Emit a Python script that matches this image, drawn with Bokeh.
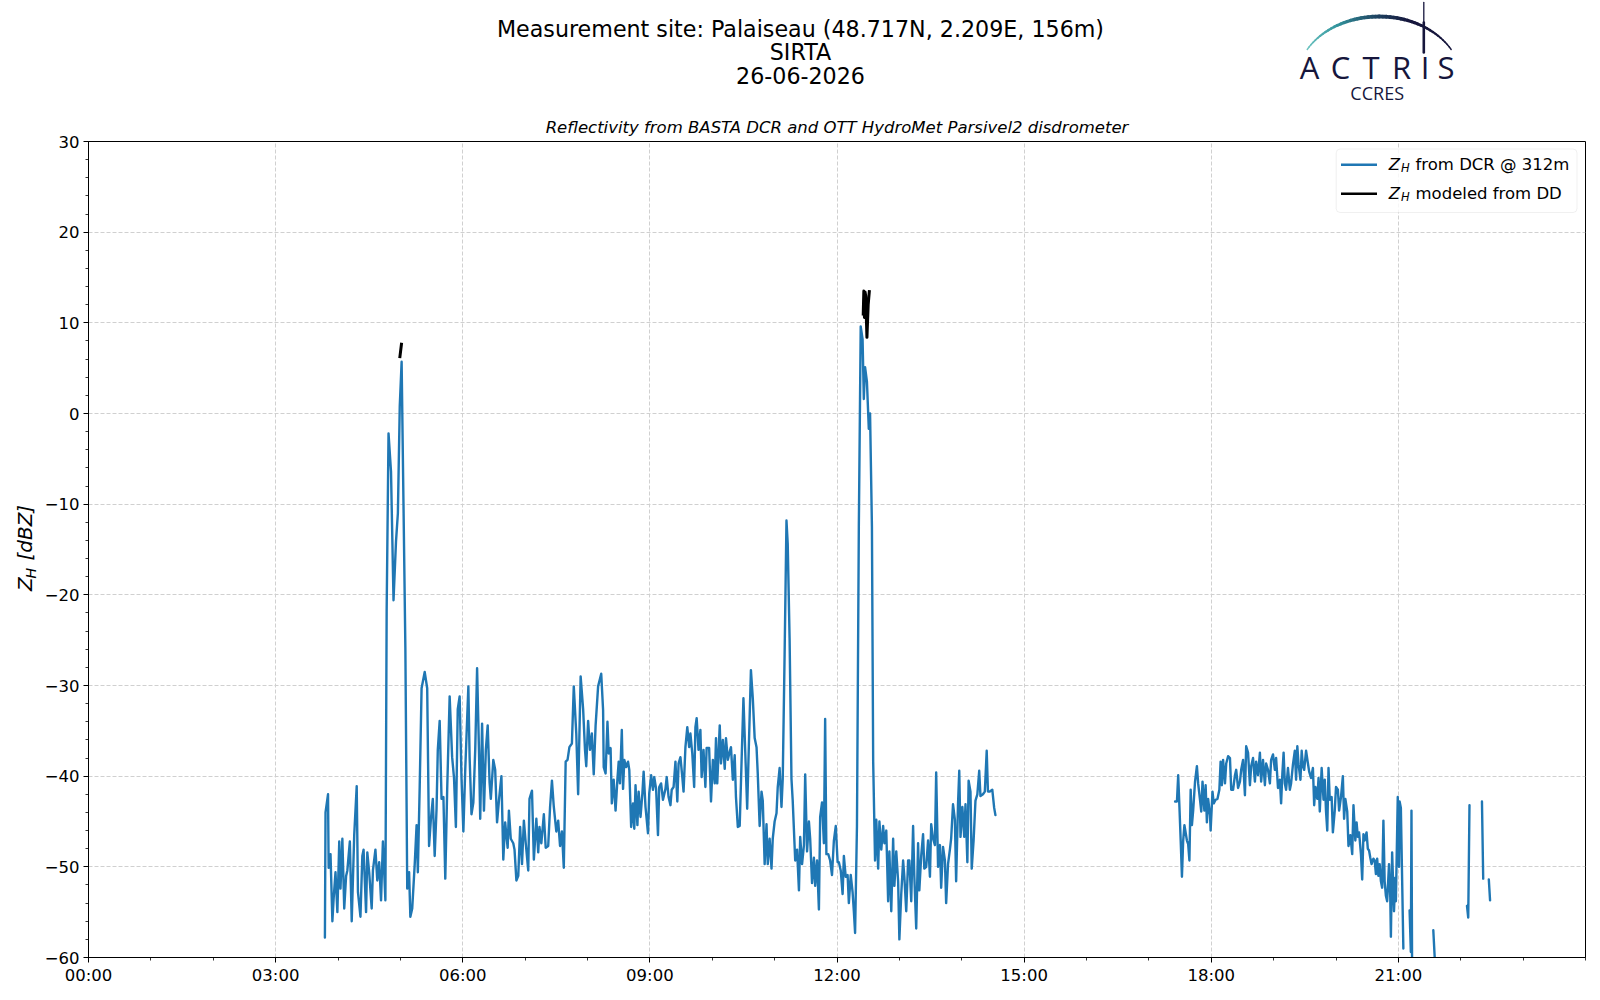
import math
from bokeh.plotting import figure
from bokeh.layouts import column, row
from bokeh.models import ColumnDataSource, FixedTicker, Label, Arrow, BoxAnnotation, Range1d
from bokeh.embed import file_html
from bokeh.resources import INLINE

nan = float("nan")

# ---------------- data (hours of day, dBZ) ----------------
seg1_hours = [3.79, 3.80, 3.84, 3.85, 3.88, 3.91, 3.93, 3.96, 3.99, 4.02, 4.04, 4.07, 4.10, 4.13, 4.15, 4.19,
              4.22, 4.26, 4.30, 4.32, 4.36, 4.39, 4.41, 4.45, 4.47, 4.50, 4.54, 4.56, 4.60, 4.63, 4.66, 4.69,
              4.72, 4.76, 4.78, 4.81, 4.85, 4.89, 4.93, 4.96, 4.99, 5.02, 5.05, 5.08, 5.11, 5.14, 5.16, 5.19,
              5.23, 5.26, 5.28, 5.31, 5.34, 5.39, 5.43, 5.46, 5.49, 5.52, 5.55, 5.58, 5.60, 5.63, 5.66, 5.69,
              5.72, 5.75, 5.79, 5.83, 5.86, 5.89, 5.92, 5.95, 5.98, 6.01, 6.04, 6.09, 6.11, 6.14, 6.17, 6.20,
              6.23, 6.26, 6.28, 6.31, 6.34, 6.37, 6.40, 6.43, 6.45, 6.49, 6.52, 6.55, 6.58, 6.62, 6.65, 6.68,
              6.72, 6.74, 6.77, 6.81, 6.83, 6.86, 6.89, 6.92, 6.95, 6.98, 7.01, 7.05, 7.07, 7.11, 7.14, 7.18,
              7.21, 7.23, 7.26, 7.30, 7.33, 7.37, 7.40, 7.43, 7.46, 7.50, 7.53, 7.56, 7.59, 7.62, 7.65, 7.68,
              7.71, 7.75, 7.78, 7.82, 7.85, 7.89, 7.93, 7.96, 7.98, 8.01, 8.04, 8.07, 8.10, 8.13, 8.17,
              8.22, 8.25, 8.26, 8.29, 8.32, 8.34, 8.37, 8.39, 8.42, 8.45, 8.48, 8.50, 8.52, 8.55, 8.57, 8.59,
              8.62, 8.65, 8.67, 8.70, 8.73, 8.75, 8.77, 8.80, 8.82, 8.85, 8.88, 8.90, 8.93, 8.97, 8.99, 9.02,
              9.05, 9.07, 9.10, 9.13, 9.15, 9.18, 9.21, 9.25, 9.27, 9.30, 9.33, 9.35, 9.38, 9.41, 9.44, 9.46,
              9.49, 9.52, 9.54, 9.57, 9.60, 9.63, 9.65, 9.68, 9.71, 9.73, 9.75, 9.78, 9.81, 9.83, 9.86, 9.89,
              9.91, 9.95, 9.98, 10.01, 10.04, 10.06, 10.08, 10.12, 10.14, 10.17, 10.20, 10.22, 10.25, 10.28,
              10.30, 10.33, 10.36, 10.38, 10.41,
              10.44, 10.47, 10.50, 10.53, 10.56, 10.58, 10.62, 10.65, 10.68, 10.71, 10.73, 10.76, 10.79, 10.81,
              10.84, 10.87, 10.89, 10.92, 10.95, 10.97, 11.00, 11.03, 11.05, 11.08, 11.11, 11.13, 11.16, 11.19,
              11.21, 11.24, 11.27, 11.29, 11.33, 11.36, 11.39, 11.41, 11.44, 11.47, 11.49, 11.52, 11.55, 11.57,
              11.60, 11.63, 11.65, 11.68, 11.71, 11.73, 11.76, 11.79, 11.81, 11.83, 11.86, 11.89, 11.92, 11.95,
              11.98, 12.01, 12.03, 12.06, 12.09, 12.11, 12.14, 12.17, 12.19, 12.22, 12.25, 12.27, 12.29, 12.32,
              12.35, 12.38, 12.41, 12.43, 12.45, 12.48, 12.51, 12.53, 12.56, 12.58, 12.61, 12.63, 12.66, 12.68,
              12.71, 12.74, 12.76, 12.79, 12.82, 12.84, 12.87, 12.90, 12.92, 12.95, 12.98, 13.00, 13.03, 13.06,
              13.08, 13.11, 13.14, 13.16, 13.19, 13.22, 13.24, 13.27, 13.30, 13.32, 13.35, 13.38, 13.40, 13.43,
              13.46, 13.49, 13.51, 13.54, 13.57, 13.59, 13.62, 13.65, 13.67, 13.70, 13.73, 13.75, 13.78, 13.81,
              13.83, 13.86, 13.89, 13.91, 13.94, 13.96, 13.98, 14.01, 14.04, 14.06, 14.09, 14.11, 14.14, 14.16,
              14.19, 14.22, 14.25, 14.28, 14.30, 14.34, 14.37, 14.40, 14.42, 14.45, 14.49, 14.52, 14.54]
seg1_dbz = [-57.8, -44.0, -42.0, -50.1, -48.6, -56.0, -53.5, -50.6, -55.0, -47.2, -52.4, -46.9, -54.6, -51.0, -50.4, -47.2,
            -56.0, -46.5, -41.1, -52.8, -55.5, -48.8, -48.1, -55.0, -48.4, -50.6, -54.6, -50.4, -48.1, -51.5, -49.5, -53.7,
            -47.2, -53.7, -21.8, -2.2, -6.4, -20.6, -14.1, -11.0, 0.8, 5.7, -10.0, -25.8, -52.4, -50.6, -55.5, -54.6,
            -49.7, -45.4, -50.6, -41.1, -30.3, -28.5, -30.3, -47.7, -44.7, -42.5, -48.8, -43.6, -37.1, -33.9, -42.5, -42.3,
            -51.3, -41.6, -31.2, -37.9, -40.2, -45.6, -32.6, -31.2, -40.2, -46.1, -39.3, -30.1, -37.9, -44.2, -42.9, -37.1,
            -28.1, -37.1, -44.7, -34.2, -43.8, -37.1, -34.4, -40.7, -42.5, -38.2, -39.3, -45.1, -42.7, -40.0, -49.2, -45.1,
            -47.9, -43.8, -46.9, -47.4, -48.1, -51.5, -51.0, -45.6, -49.7, -44.9, -47.4, -50.4, -42.5, -41.6, -49.2, -44.7,
            -48.4, -45.6, -47.4, -44.2, -47.9, -47.7, -43.4, -40.5, -43.4, -46.1, -44.9, -47.7, -46.1, -50.1, -38.4, -38.2,
            -36.8, -36.4, -30.1, -35.3, -42.0, -29.0, -32.6, -37.1, -38.9, -33.9, -37.1, -35.3, -39.8, -34.4, -30.1,
            -28.7, -32.7, -39.0, -39.7, -34.0, -37.5, -36.9, -43.0, -40.4, -43.8, -40.3, -38.4, -40.8, -34.9, -41.4, -38.2,
            -39.0, -38.4, -39.3, -45.6, -43.0, -45.8, -41.0, -45.4, -41.7, -44.5, -41.9, -39.5, -43.4, -46.3, -41.9, -39.9,
            -41.5, -40.1, -41.4, -46.5, -41.2, -40.8, -42.6, -41.4, -40.1, -42.3, -43.2, -41.5, -41.2, -38.4, -42.8, -38.6,
            -37.9, -40.1, -41.7, -36.8, -34.6, -36.8, -35.3, -37.5, -41.2, -34.6, -33.6, -37.1, -34.9, -40.1, -37.1, -41.2,
            -36.9, -36.9, -42.8, -38.2, -40.8, -35.8, -40.8, -34.4, -38.6, -36.0, -39.2, -35.8, -38.2, -37.3,
            -36.8, -40.4, -37.7, -42.3, -45.6,
            -45.5, -38.4, -31.4, -37.5, -43.6, -38.4, -28.3, -31.4, -35.8, -36.8, -39.8, -45.5, -41.7, -42.7,
            -49.7, -45.3, -49.7, -46.9, -50.2, -46.9, -45.0, -44.1, -41.2, -39.1, -43.4, -40.3, -26.6, -11.8,
            -14.4, -24.8, -40.3, -42.7, -49.3, -48.1, -52.6, -46.7, -49.7, -47.6, -39.8, -48.3, -45.0, -46.9,
            -51.8, -49.0, -52.1, -49.3, -54.7, -44.5, -42.9, -47.4, -33.7, -48.6, -48.6, -49.3, -50.9, -47.1,
            -45.5, -49.5, -49.5, -50.4, -53.0, -48.8, -51.1, -50.9, -54.0, -50.9, -52.8, -54.9, -57.3, -45.5,
            -12.5, 9.6, 8.2, 1.6, 5.1, 3.5, -1.7, 0.0, -12.5, -38.4, -49.3, -44.8, -50.2, -45.0,
            -48.1, -45.5, -47.4, -46.0, -53.8, -48.3, -54.9, -46.9, -52.1, -48.3, -51.6, -58.0, -53.0, -49.3,
            -51.1, -54.9, -49.3, -49.3, -53.8, -45.5, -51.1, -56.8, -47.4, -52.6, -48.8, -46.4, -50.2, -50.0,
            -47.1, -51.1, -45.3, -46.9, -47.6, -39.6, -50.0, -47.6, -52.3, -47.8, -49.3, -54.0, -49.7, -48.1,
            -46.9, -43.1, -44.8, -51.6, -43.1, -39.4, -46.7, -43.4, -46.7, -43.1, -49.5, -40.5, -41.7, -50.2,
            -47.1, -42.7, -42.0, -39.4, -42.2, -42.0, -41.7, -37.2, -41.7, -41.7, -41.5, -43.5, -44.3]

seg2_hours = [17.42, 17.45, 17.47, 17.49, 17.51, 17.53, 17.55, 17.57, 17.61, 17.63, 17.65, 17.67, 17.69, 17.71,
              17.74, 17.77, 17.79, 17.82, 17.84, 17.86, 17.89, 17.91, 17.93, 17.95, 17.98, 17.99, 18.02, 18.04,
              18.07, 18.10, 18.13, 18.15, 18.17, 18.19, 18.22, 18.24, 18.27, 18.30, 18.32, 18.35, 18.38, 18.40,
              18.43, 18.46, 18.48, 18.51, 18.54, 18.56, 18.59, 18.62, 18.64, 18.67, 18.70, 18.72, 18.75, 18.78,
              18.80, 18.83, 18.86, 18.88, 18.91, 18.94, 18.96, 18.99, 19.02, 19.04, 19.07, 19.10, 19.12, 19.14,
              19.16, 19.18, 19.20, 19.23, 19.26, 19.28, 19.31, 19.34, 19.36, 19.38, 19.40, 19.43, 19.45, 19.47,
              19.49, 19.52, 19.55, 19.57, 19.60, 19.63, 19.65, 19.67, 19.70, 19.72, 19.74, 19.77, 19.80, 19.82,
              19.84, 19.86, 19.88, 19.90, 19.93, 19.95, 19.98, 20.00, 20.03, 20.05, 20.08, 20.11, 20.13, 20.15,
              20.18, 20.20, 20.23, 20.26, 20.28, 20.31, 20.33, 20.35, 20.37, 20.40, 20.42, 20.44, 20.46, 20.49,
              20.51, 20.53, 20.55, 20.57, 20.60, 20.62, 20.64, 20.66, 20.68, 20.70, 20.72, 20.74, 20.76, 20.78,
              20.80, 20.82, 20.85, 20.87, 20.88, 20.90, 20.93, 20.95, 20.96, 20.99, 21.01, 21.02, 21.04, 21.08]
seg2_dbz = [-42.8, -42.8, -39.9, -43.4, -47.1, -51.1, -47.1, -45.4, -47.1, -47.5, -49.3, -41.5, -45.4, -43.8,
            -40.6, -38.9, -40.8, -42.6, -43.9, -40.6, -43.8, -41.0, -45.1, -42.5, -44.3, -46.0, -41.7, -43.0,
            -42.6, -42.5, -41.5, -38.4, -41.0, -38.2, -40.8, -38.6, -37.8, -38.0, -41.5, -41.5, -39.9, -39.3,
            -41.3, -40.6, -39.3, -38.2, -42.1, -36.7, -37.4, -41.0, -38.9, -38.0, -40.6, -38.4, -39.9, -37.4,
            -40.6, -38.2, -41.0, -38.6, -39.3, -40.8, -38.2, -37.6, -39.3, -38.0, -41.3, -40.4, -43.0, -39.7,
            -37.4, -40.8, -41.5, -39.1, -41.5, -40.8, -38.7, -37.2, -40.4, -36.7, -38.7, -40.4, -37.2, -38.9,
            -39.3, -37.2, -38.6, -39.5, -40.2, -39.1, -43.2, -41.2, -42.5, -40.2, -43.9, -39.1, -42.6, -40.4,
            -43.9, -46.0, -39.1, -42.6, -42.3, -46.2, -43.8, -41.2, -41.5, -43.8, -42.3, -40.0, -44.7, -42.5,
            -43.9, -47.7, -46.5, -48.6, -43.2, -47.1, -45.1, -46.7, -46.2, -48.6, -51.4, -46.4, -47.1, -46.2,
            -48.0, -48.2, -49.0, -49.7, -49.1, -49.3, -50.8, -49.1, -51.0, -49.7, -51.6, -52.3, -44.9, -51.6,
            -53.2, -53.8, -49.7, -53.4, -57.7, -48.4, -54.9, -51.2, -53.8, -42.3, -50.0, -42.8, -43.5, -59.0]

frag_hours = [[21.18, 21.20, 21.21, 21.22], [21.56, 21.59], [22.10, 22.12, 22.14], [22.34, 22.36], [22.45, 22.47]]
frag_dbz = [[-54.8, -59.4, -43.8, -61.0], [-57.0, -61.0], [-54.3, -55.6, -43.2], [-42.8, -51.3], [-51.4, -53.7]]

dd_hours = [[4.99, 5.02], [12.42, 12.43, 12.44, 12.45, 12.46, 12.48, 12.50, 12.52]]
dd_dbz = [[6.1, 7.8], [10.8, 13.5, 10.6, 13.4, 13.0, 8.4, 12.0, 13.6]]

x_ticks = [0, 3, 6, 9, 12, 15, 18, 21]
x_tick_labels = ["00:00", "03:00", "06:00", "09:00", "12:00", "15:00", "18:00", "21:00"]
y_ticks = [-60, -50, -40, -30, -20, -10, 0, 10, 20, 30]
y_tick_labels = ["\u221260", "\u221250", "\u221240", "\u221230", "\u221220", "\u221210", "0", "10", "20", "30"]


def join(segs_t, segs_z):
    T, Z = [], []
    for t, z in zip(segs_t, segs_z):
        if T:
            T.append(nan)
            Z.append(nan)
        T += list(t)
        Z += list(z)
    return T, Z


dcr_t, dcr_z = join([seg1_hours, seg2_hours] + frag_hours, [seg1_dbz, seg2_dbz] + frag_dbz)
dd_t, dd_z = join(dd_hours, dd_dbz)

# ---------------- layout geometry (page pixels) ----------------
PW, PH = 1592, 992          # whole page block
HH = 108                    # header strip height
LW = 38                     # strip holding the y-axis label
FL, FR, FT, FB = 88, 1585, 141, 957  # plot frame on the page
NAVY = "#16163c"


def bare(fig):
    fig.axis.visible = False
    fig.grid.visible = False
    fig.outline_line_color = None
    fig.background_fill_color = "white"
    fig.border_fill_color = "white"
    return fig


# ---------------- header (titles + logo) ----------------
hdr = bare(figure(width=PW, height=HH, x_range=Range1d(0, PW), y_range=Range1d(HH, 0),
                  output_backend="svg", toolbar_location=None,
                  min_border_left=0, min_border_right=0, min_border_top=0, min_border_bottom=0))


def htext(fig, X, Y, text, size, style="normal", align="center", baseline="middle",
          font="DejaVu Sans", color="black", angle=0.0):
    fig.add_layout(Label(x=X, y=Y, text=text, text_font=font, text_font_size=size,
                         text_font_style=style, text_align=align, text_baseline=baseline,
                         text_color=color, angle=angle))


htext(hdr, 800, 28.6, "Measurement site: Palaiseau (48.717N, 2.209E, 156m)", "22.2px")
htext(hdr, 800, 51.5, "SIRTA", "22.2px")
htext(hdr, 800, 74.5, "26-06-2026", "22.2px")

stops = [(0.0, (112, 198, 194)), (0.25, (52, 150, 158)), (0.5, (30, 66, 96)), (0.68, (22, 22, 60)), (1.0, (22, 22, 60))]


def grad(t):
    for (t0, c0), (t1, c1) in zip(stops[:-1], stops[1:]):
        if t <= t1:
            f = (t - t0) / (t1 - t0)
            return "#%02x%02x%02x" % tuple(int(round(a + (b - a) * f)) for a, b in zip(c0, c1))
    return NAVY


cx, cy, ra, rb = 1378.7, 80.0, 82.3, 64.0
th0, th1 = math.radians(151), math.radians(29)
N = 48
arc_xs, arc_ys, arc_c, arc_w = [], [], [], []
for i in range(N):
    t0, t1 = i / N, (i + 1) / N
    a0 = th0 + (th1 - th0) * t0
    a1 = th0 + (th1 - th0) * t1
    arc_xs.append([cx + ra * math.cos(a0), cx + ra * math.cos(a1)])
    arc_ys.append([cy - rb * math.sin(a0), cy - rb * math.sin(a1)])
    arc_c.append(grad((t0 + t1) / 2))
    arc_w.append(1.4 + 2.4 * math.sin(math.pi * (t0 + t1) / 2) ** 1.5)
arc_xs += [[1423.3, 1423.3], [1423.3, 1423.3]]
arc_ys += [[2.0, 22.0], [22.0, 52.0]]
arc_c += [NAVY, NAVY]
arc_w += [1.3, 2.6]
hdr.multi_line(xs="xs", ys="ys", line_color="c", line_width="w", line_cap="round",
               source=ColumnDataSource(dict(xs=arc_xs, ys=arc_ys, c=arc_c, w=arc_w)))
for ch, Xc in zip("ACTRIS", [1309, 1340, 1370.5, 1401, 1424.5, 1445.5]):
    htext(hdr, Xc, 66.3, ch, "31px", font="Open Sans", color=NAVY)
htext(hdr, 1376.7, 92.0, "CCRES", "18px", font="Open Sans", color=NAVY)

# ---------------- y-axis label strip ----------------
lab = bare(figure(width=LW, height=PH - HH, x_range=Range1d(0, LW), y_range=Range1d(PH, HH),
                  output_backend="svg", toolbar_location=None,
                  min_border_left=0, min_border_right=0, min_border_top=0, min_border_bottom=0))
htext(lab, 24.5, 595, "Z", "20px", style="italic", align="left", angle=math.pi / 2)
htext(lab, 30.0, 581.5, "H", "14px", style="italic", align="left", angle=math.pi / 2)
htext(lab, 24.5, 562, "[dBZ]", "20px", style="italic", align="left", angle=math.pi / 2)

# ---------------- main plot ----------------
MW, MH = PW - LW, PH - HH
p = figure(width=MW, height=MH, x_range=(0, 24), y_range=(-60, 30),
           output_backend="svg", toolbar_location=None,
           title="Reflectivity from BASTA DCR and OTT HydroMet Parsivel2 disdrometer",
           min_border_left=FL - LW, min_border_right=PW - FR,
           min_border_top=FT - HH, min_border_bottom=PH - FB)
p.title.align = "center"
p.title.text_font = "DejaVu Sans"
p.title.text_font_size = "16.5px"
p.title.text_font_style = "italic"
p.title.text_color = "black"
p.title.standoff = 10
p.background_fill_color = "white"
p.border_fill_color = "white"
p.outline_line_color = "black"
p.outline_line_width = 1

p.line(x="t", y="z", source=ColumnDataSource(dict(t=dcr_t, z=dcr_z)),
       line_color="#1f77b4", line_width=2.4, line_join="round", line_cap="round")
p.line(x="t", y="z", source=ColumnDataSource(dict(t=dd_t, z=dd_z)),
       line_color="black", line_width=3, line_join="round", line_cap="butt")

p.xaxis.ticker = FixedTicker(ticks=x_ticks, minor_ticks=list(range(0, 25)))
p.yaxis.ticker = FixedTicker(ticks=y_ticks, minor_ticks=list(range(-60, 31, 2)))
p.xaxis.major_label_overrides = dict(zip(x_ticks, x_tick_labels))
p.yaxis.major_label_overrides = dict(zip(y_ticks, y_tick_labels))
for ax in (p.xaxis, p.yaxis):
    ax.axis_line_color = "black"
    ax.axis_line_width = 1
    ax.major_tick_line_color = "black"
    ax.major_tick_line_width = 1
    ax.minor_tick_line_color = "black"
    ax.minor_tick_line_width = 0.8
    ax.major_tick_out = 5
    ax.major_tick_in = 0
    ax.minor_tick_out = 3
    ax.minor_tick_in = 0
    ax.major_label_text_font = "DejaVu Sans"
    ax.major_label_text_font_size = "16.5px"
    ax.major_label_text_color = "black"
p.xaxis.major_label_standoff = 3
p.yaxis.major_label_standoff = 4
for g in (p.xgrid, p.ygrid):
    g.grid_line_color = "#d0d0d0"
    g.grid_line_dash = "4 2"
    g.grid_line_width = 1


def sx(X):
    return X - FL


def sy(Y):
    return FB - Y


def label(X, Y, text, size, style="normal", align="left", baseline="middle", color="black"):
    p.add_layout(Label(x=sx(X), y=sy(Y), x_units="screen", y_units="screen", text=text,
                       text_font="DejaVu Sans", text_font_size=size, text_font_style=style,
                       text_align=align, text_baseline=baseline, text_color=color))


# legend (drawn by hand so that Z_H keeps its subscript)
p.add_layout(BoxAnnotation(left=sx(1335.7), right=sx(1576.5), top=sy(148.5), bottom=sy(212.0),
                           left_units="screen", right_units="screen", top_units="screen", bottom_units="screen",
                           fill_color="white", fill_alpha=0.8, line_color="#cccccc", line_width=1,
                           border_radius=4))
for Yl, col, rest in [(164.3, "#1f77b4", "from DCR @ 312m"), (193.3, "black", "modeled from DD")]:
    p.add_layout(Arrow(start=None, end=None, x_start=sx(1340.5), y_start=sy(Yl), x_end=sx(1376.5), y_end=sy(Yl),
                       start_units="screen", end_units="screen", line_color=col, line_width=2.4))
    label(1388.3, Yl, "Z", "16.5px", style="italic")
    label(1400.6, Yl + 3.6, "H", "11.5px", style="italic")
    label(1415.0, Yl, rest, "16.5px")

page = column(hdr, row(lab, p, spacing=0), spacing=0)
open("out.html", "w").write(file_html(page, INLINE))
